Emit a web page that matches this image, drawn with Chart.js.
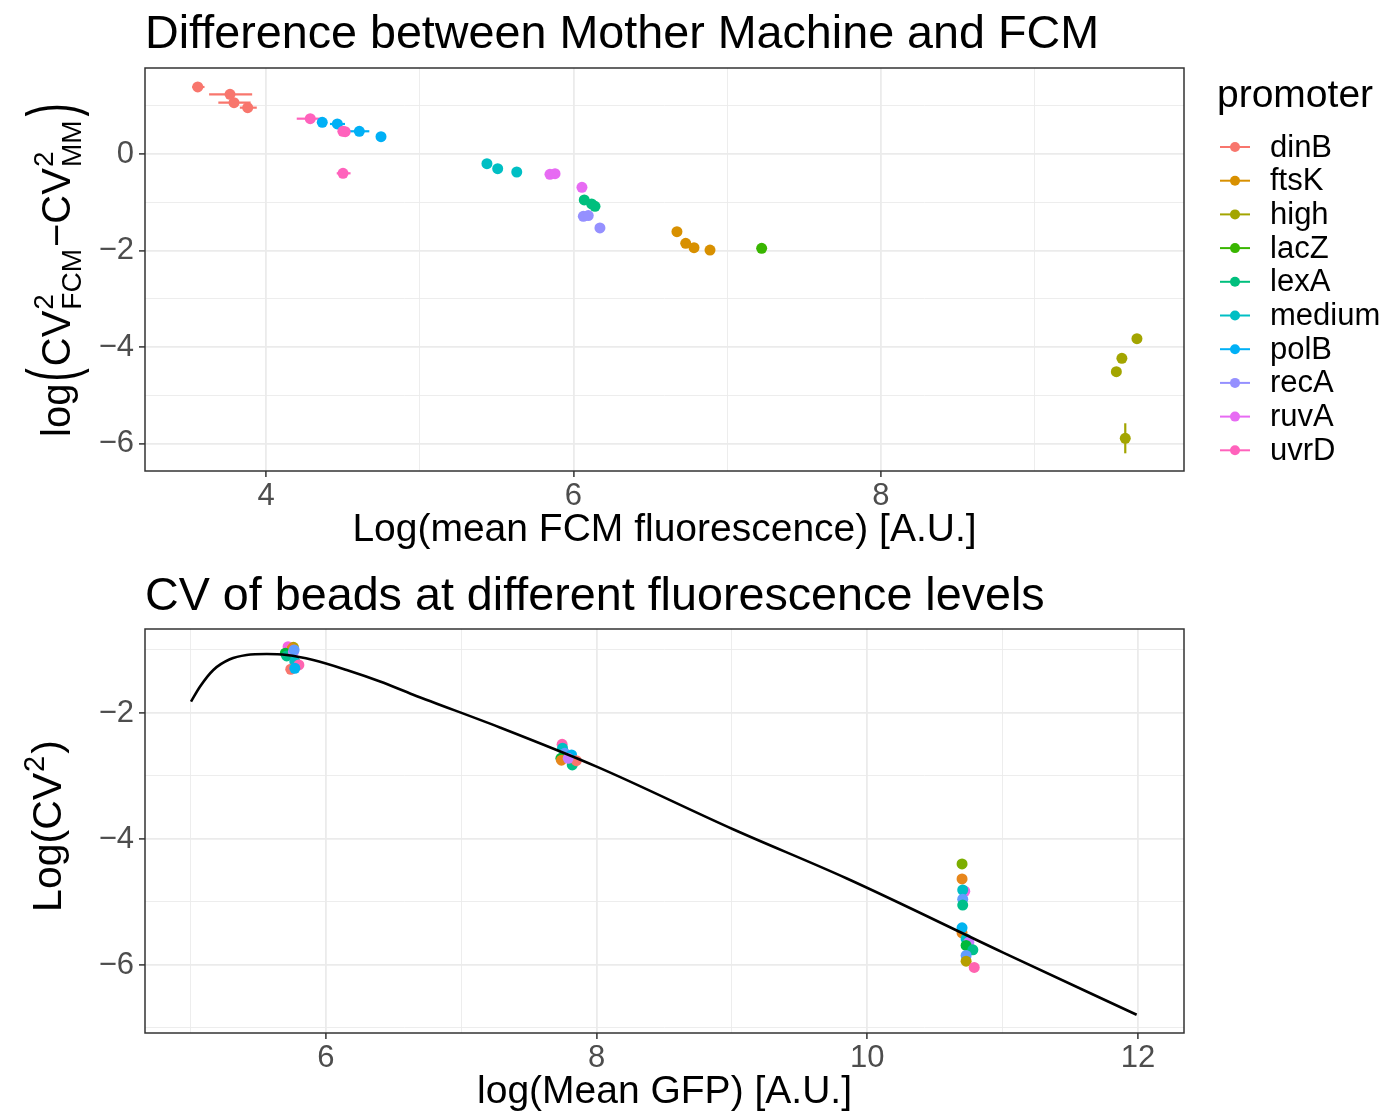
<!DOCTYPE html>
<html>
<head>
<meta charset="utf-8">
<script src="https://cdn.jsdelivr.net/npm/chart.js@4.4.1/dist/chart.umd.min.js"></script>
<style>
  html, body { margin: 0; padding: 0; background: #fff; }
  canvas { display: block; }
</style>
</head>
<body>
<canvas id="topChart" width="1398" height="556"></canvas>
<canvas id="bottomChart" width="1398" height="560"></canvas>
<script>
const FONT = "'Liberation Sans', Arial, Helvetica, sans-serif";
Chart.defaults.font.family = FONT;
Chart.defaults.color = '#4D4D4D';

// ---- top panel: promoter data ----
const promoters = ['dinB', 'ftsK', 'high', 'lacZ', 'lexA', 'medium', 'polB', 'recA', 'ruvA', 'uvrD'];
const promoterColors = ['#F8766D', '#D89000', '#A3A500', '#39B600', '#00BF7D', '#00BFC4', '#00B0F6', '#9590FF', '#E76BF3', '#FF62BC'];

const ptPromoter = ['dinB', 'dinB', 'dinB', 'dinB', 'ftsK', 'ftsK', 'ftsK', 'ftsK', 'high', 'high', 'high', 'high',
  'lacZ', 'lexA', 'lexA', 'lexA', 'medium', 'medium', 'medium', 'polB', 'polB', 'polB', 'polB',
  'recA', 'recA', 'recA', 'ruvA', 'ruvA', 'ruvA', 'uvrD', 'uvrD', 'uvrD', 'uvrD'];
const ptX = [3.556, 3.766, 3.792, 3.881, 6.673, 6.730, 6.784, 6.888, 9.665, 9.567, 9.531, 9.589,
  7.224, 6.070, 6.118, 6.140, 5.437, 5.507, 5.631, 4.366, 4.464, 4.607, 4.748,
  6.064, 6.096, 6.172, 5.847, 5.880, 6.055, 4.288, 4.500, 4.515, 4.501];
const ptY = [1.387, 1.236, 1.062, 0.959, -1.609, -1.850, -1.940, -1.990, -3.824, -4.230, -4.507, -5.886,
  -1.952, -0.952, -1.035, -1.083, -0.200, -0.304, -0.373, 0.656, 0.621, 0.470, 0.359,
  -1.290, -1.276, -1.532, -0.420, -0.408, -0.690, 0.731, 0.470, 0.462, -0.400];
const ptXLo = [3.52, 3.63, 3.69, 3.83, null, null, null, null, null, null, null, null,
  null, null, null, null, null, null, null, null, 4.416, 4.546, null,
  null, null, null, null, null, null, 4.20, null, null, 4.46];
const ptXHi = [3.60, 3.91, 3.90, 3.94, null, null, null, null, null, null, null, null,
  null, null, null, null, null, null, null, null, 4.514, 4.672, null,
  null, null, null, null, null, null, 4.37, null, null, 4.55];
const ptYLo = [null, null, null, null, null, null, null, null, null, null, null, -6.197,
  null, null, null, null, null, null, null, null, null, null, null,
  null, null, null, null, null, null, null, null, null, null];
const ptYHi = [null, null, null, null, null, null, null, null, null, null, null, -5.575,
  null, null, null, null, null, null, null, null, null, null, null,
  null, null, null, null, null, null, null, null, null, null];

const topXTicks = [4, 5, 6, 7, 8, 9];
const topXLabels = [4, 6, 8];
const topYTicks = [-6, -5, -4, -3, -2, -1, 0, 1];
const topYLabels = [-6, -4, -2, 0];

// ---- bottom panel: beads + fitted curve ----
const beadX = [5.72, 5.76, 5.75, 5.70, 5.71, 5.76, 5.765, 5.77, 5.80, 5.74, 5.77,
  7.745, 7.748, 7.765, 7.736, 7.74, 7.815, 7.82, 7.85, 7.79,
  10.70, 10.70, 10.72, 10.705, 10.705, 10.705, 10.70, 10.70, 10.73, 10.75, 10.73, 10.78, 10.73, 10.73, 10.79];
const beadY = [-0.947, -0.957, -0.98, -1.05, -1.095, -1.03, -1.0, -1.186, -1.238, -1.306, -1.29,
  -2.497, -2.56, -2.64, -2.72, -2.75, -2.667, -2.825, -2.757, -2.72,
  -4.397, -4.635, -4.83, -4.81, -4.957, -5.05, -5.49, -5.41, -5.587, -5.64, -5.69, -5.76, -5.85, -5.94, -6.04];
const beadGroup = [10, 2, 1, 4, 5, 9, 8, 6, 11, 0, 7,
  11, 6, 8, 4, 1, 7, 5, 0, 9,
  3, 1, 10, 6, 8, 5, 1, 7, 6, 9, 4, 5, 8, 2, 11];
const beadColors = ['#F8766D', '#E7861B', '#B79F00', '#7CAE00', '#00BA38', '#00C08B', '#00BFC4', '#00B4F0', '#619CFF', '#C77CFF', '#F564E3', '#FF64B0'];

const curveX = [5.003, 5.07, 5.168, 5.29, 5.414, 5.562, 5.71, 5.906, 6.153, 6.40, 6.645, 7.285, 8.0, 9.008, 9.845, 11.0, 11.99];
const curveY = [-1.82, -1.58, -1.317, -1.148, -1.079, -1.063, -1.079, -1.159, -1.317, -1.50, -1.71, -2.23, -2.852, -3.846, -4.624, -5.80, -6.79];

const botXTicks = [5, 6, 7, 8, 9, 10, 11, 12];
const botXLabels = [6, 8, 10, 12];
const botYTicks = [-7, -6, -5, -4, -3, -2, -1];
const botYLabels = [-6, -4, -2];

// ---- helpers ----
function fmt(v) { return v < 0 ? '\u2212' + Math.abs(v) : String(v); }

function axis(min, max, ticks, labels, isX, fixed, titleText, titlePad) {
  return {
    type: 'linear',
    min: min, max: max,
    afterBuildTicks: s => { s.ticks = ticks.map(v => ({ value: v })); },
    afterFit: s => { if (isX) s.height = fixed; else s.width = fixed; },
    ticks: {
      autoSkip: false, maxRotation: 0, padding: isX ? 1 : 5,
      font: { size: 31 }, color: '#4D4D4D',
      callback: v => labels.includes(v) ? fmt(v) : ''
    },
    grid: {
      color: '#EBEBEB',
      lineWidth: c => (c.tick && labels.includes(c.tick.value)) ? 1.8 : 0.9,
      tickColor: c => (c.tick && labels.includes(c.tick.value)) ? '#333333' : 'rgba(0,0,0,0)',
      tickLength: 6, tickWidth: 1.5
    },
    border: { display: false },
    title: titleText ? { display: true, text: titleText, color: '#000', font: { size: 39 }, padding: { top: 0, bottom: titlePad } } : { display: false }
  };
}

function drawYTitle(ctx, pieces, centerY, baseX, size) {
  const small = Math.round(size * 0.7);
  ctx.save();
  ctx.translate(baseX, centerY);
  ctx.rotate(-Math.PI / 2);
  let total = 0;
  const widths = pieces.map(p => {
    let w;
    if (p.sup !== undefined || p.sub !== undefined) {
      ctx.font = small + 'px ' + FONT;
      w = Math.max(ctx.measureText(p.sup || '').width, ctx.measureText(p.sub || '').width) + 3;
    } else {
      ctx.font = size + 'px ' + FONT;
      w = ctx.measureText(p.t).width + (p.big ? 4 : 0);
    }
    total += w;
    return w;
  });
  let x = -total / 2;
  ctx.fillStyle = '#000';
  ctx.textAlign = 'left';
  ctx.textBaseline = 'alphabetic';
  pieces.forEach((p, i) => {
    if (p.sup !== undefined || p.sub !== undefined) {
      ctx.font = small + 'px ' + FONT;
      if (p.sup) ctx.fillText(p.sup, x + 1, -size * 0.42);
      if (p.sub) ctx.fillText(p.sub, x + 1, size * 0.28);
    } else if (p.big) {
      ctx.font = size + 'px ' + FONT;
      ctx.save();
      ctx.translate(x + 2, 5);
      ctx.scale(1, 1.7);
      ctx.fillText(p.t, 0, 0);
      ctx.restore();
    } else {
      ctx.font = size + 'px ' + FONT;
      ctx.fillText(p.t, x, 0);
    }
    x += widths[i];
  });
  ctx.restore();
}

const panelBorder = {
  id: 'panelBorder',
  afterDatasetsDraw(chart) {
    const a = chart.chartArea, ctx = chart.ctx;
    ctx.save();
    ctx.strokeStyle = '#333333';
    ctx.lineWidth = 1.5;
    ctx.strokeRect(a.left, a.top, a.right - a.left, a.bottom - a.top);
    ctx.restore();
  }
};

// ---- top chart ----
const topDatasets = promoters.map((p, i) => ({
  label: p,
  data: ptPromoter.map((q, k) => q === p ? { x: ptX[k], y: ptY[k], xLo: ptXLo[k], xHi: ptXHi[k], yLo: ptYLo[k], yHi: ptYHi[k] } : null).filter(d => d),
  backgroundColor: promoterColors[i],
  borderWidth: 0,
  pointRadius: 5.5,
  order: promoters.length - i
}));

const errorBars = {
  id: 'errorBars',
  beforeDatasetsDraw(chart) {
    const ctx = chart.ctx, xs = chart.scales.x, ys = chart.scales.y;
    ctx.save();
    ctx.lineWidth = 2.2;
    chart.data.datasets.forEach(ds => {
      ctx.strokeStyle = ds.backgroundColor;
      ds.data.forEach(d => {
        if (d.xLo !== null) {
          ctx.beginPath();
          ctx.moveTo(xs.getPixelForValue(d.xLo), ys.getPixelForValue(d.y));
          ctx.lineTo(xs.getPixelForValue(d.xHi), ys.getPixelForValue(d.y));
          ctx.stroke();
        }
        if (d.yLo !== null) {
          ctx.beginPath();
          ctx.moveTo(xs.getPixelForValue(d.x), ys.getPixelForValue(d.yLo));
          ctx.lineTo(xs.getPixelForValue(d.x), ys.getPixelForValue(d.yHi));
          ctx.stroke();
        }
      });
    });
    ctx.restore();
  }
};

const topDecor = {
  id: 'topDecor',
  afterDraw(chart) {
    const ctx = chart.ctx;
    ctx.save();
    ctx.fillStyle = '#000';
    ctx.textAlign = 'left';
    ctx.textBaseline = 'alphabetic';
    ctx.font = '46.7px ' + FONT;
    ctx.fillText('Difference between Mother Machine and FCM', 145, 48);

    // legend
    ctx.font = '39px ' + FONT;
    ctx.fillText('promoter', 1217, 107);
    ctx.font = '31px ' + FONT;
    ctx.textBaseline = 'middle';
    promoters.forEach((p, i) => {
      const y = 147 + i * 33.7;
      ctx.strokeStyle = promoterColors[i];
      ctx.lineWidth = 2;
      ctx.beginPath(); ctx.moveTo(1220, y); ctx.lineTo(1250, y); ctx.stroke();
      ctx.fillStyle = promoterColors[i];
      ctx.beginPath(); ctx.arc(1235, y, 5, 0, Math.PI * 2); ctx.fill();
      ctx.fillStyle = '#000';
      ctx.fillText(p, 1270, y + 1);
    });
    ctx.restore();

    drawYTitle(ctx, [
      { t: 'log' }, { t: '(', big: true }, { t: 'CV' }, { sup: '2', sub: 'FCM' },
      { t: '\u2212' }, { t: 'CV' }, { sup: '2', sub: 'MM' }, { t: ')', big: true }
    ], 269, 70, 40);
  }
};

new Chart(document.getElementById('topChart'), {
  type: 'scatter',
  data: { datasets: topDatasets },
  options: {
    responsive: false,
    animation: false,
    layout: { padding: { left: 0, top: 68, right: 214, bottom: 0 } },
    plugins: { legend: { display: false }, tooltip: { enabled: false } },
    scales: {
      x: axis(3.213, 9.971, topXTicks, topXLabels, true, 85, 'Log(mean FCM fluorescence) [A.U.]', 2),
      y: axis(-6.563, 1.78, topYTicks, topYLabels, false, 145, null, 0)
    }
  },
  plugins: [errorBars, panelBorder, topDecor]
});

// ---- bottom chart ----
const bottomDecor = {
  id: 'bottomDecor',
  afterDraw(chart) {
    const ctx = chart.ctx;
    ctx.save();
    ctx.fillStyle = '#000';
    ctx.textAlign = 'left';
    ctx.textBaseline = 'alphabetic';
    ctx.font = '46.7px ' + FONT;
    ctx.fillText('CV of beads at different fluorescence levels', 145, 54);
    ctx.restore();
    drawYTitle(ctx, [{ t: 'Log(CV' }, { sup: '2' }, { t: ')' }], 270, 61, 41);
  }
};

new Chart(document.getElementById('bottomChart'), {
  type: 'scatter',
  data: {
    datasets: [
      {
        label: 'fit',
        data: curveX.map((x, i) => ({ x: x, y: curveY[i] })),
        showLine: true,
        borderColor: '#000000',
        borderWidth: 2.6,
        pointRadius: 0,
        cubicInterpolationMode: 'monotone',
        order: 0
      },
      {
        label: 'beads',
        data: beadX.map((x, i) => ({ x: x, y: beadY[i] })),
        backgroundColor: beadGroup.map(g => beadColors[g]),
        borderWidth: 0,
        pointRadius: 5.5,
        order: 1
      }
    ]
  },
  options: {
    responsive: false,
    animation: false,
    layout: { padding: { left: 0, top: 73, right: 214, bottom: 0 } },
    plugins: { legend: { display: false }, tooltip: { enabled: false } },
    scales: {
      x: axis(4.663, 12.34, botXTicks, botXLabels, true, 83, 'log(Mean GFP) [A.U.]', 0),
      y: axis(-7.08, -0.667, botYTicks, botYLabels, false, 145, null, 0)
    }
  },
  plugins: [panelBorder, bottomDecor]
});
</script>
</body>
</html>
